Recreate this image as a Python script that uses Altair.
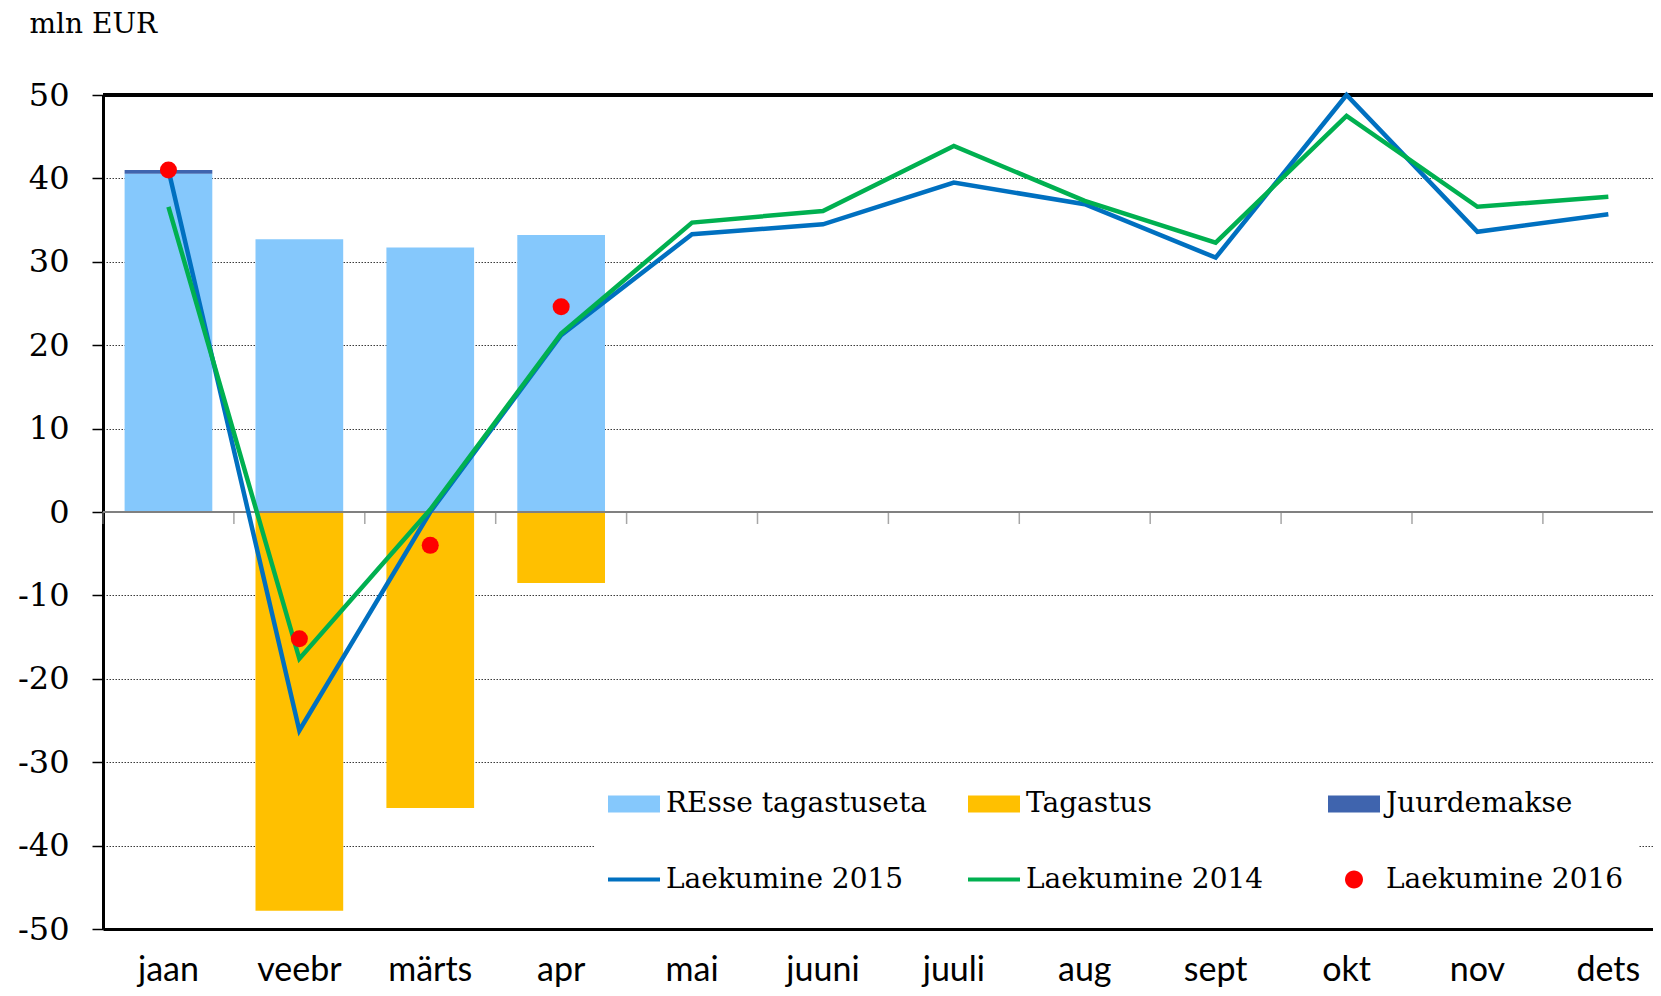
import altair as alt
import pandas as pd

months = ["jaan", "veebr", "märts", "apr", "mai", "juuni", "juuli", "aug", "sept", "okt", "nov", "dets"]
bar_months = ["jaan", "veebr", "märts", "apr"]
re_vals = [40.55, 32.7, 31.7, 33.2]
tagastus_vals = [0.0, -47.8, -35.5, -8.5]
juurdemakse_vals = [0.45, 0.0, 0.0, 0.0]
l2015 = [41.0, -26.2, 0.0, 21.2, 33.3, 34.5, 39.5, 36.9, 30.5, 50.0, 33.6, 35.7]
l2014 = [36.6, -17.6, 0.3, 21.4, 34.7, 36.1, 43.9, 37.3, 32.3, 47.5, 36.6, 37.8]
l2016 = [41.0, -15.2, -4.0, 24.6]
y_ticks = [-50, -40, -30, -20, -10, 0, 10, 20, 30, 40, 50]

series = ["REsse tagastuseta", "Tagastus", "Juurdemakse",
          "Laekumine 2015", "Laekumine 2014", "Laekumine 2016"]
colors = ["#85C8FC", "#FFC000", "#3F64AE", "#0070C0", "#00B050", "#FF0000"]
rect_path = "M-1,-0.327H1V0.327H-1Z"
line_path = "M-1,-0.08H1V0.08H-1Z"
dot_path = "M0.346,0A0.346,0.346,0,1,1,-0.346,0A0.346,0.346,0,1,1,0.346,0Z"
shapes = [rect_path, rect_path, rect_path, line_path, line_path, dot_path]

# ---- tables ----
bar_rows = []
for i, m in enumerate(bar_months):
    bar_rows.append({"month": m, "series": series[0], "value": re_vals[i], "ord": 0})
    bar_rows.append({"month": m, "series": series[2], "value": juurdemakse_vals[i], "ord": 1})
    bar_rows.append({"month": m, "series": series[1], "value": tagastus_vals[i], "ord": 2})
bar_df = pd.DataFrame(bar_rows)
df15 = pd.DataFrame({"month": months, "value": l2015, "series": series[3]})
df14 = pd.DataFrame({"month": months, "value": l2014, "series": series[4]})
df16 = pd.DataFrame({"month": bar_months, "value": l2016, "series": series[5]})
month_df = pd.DataFrame({"month": months})
legend_df = pd.DataFrame({"series": series})

xscale = alt.Scale(type="band", domain=months, paddingInner=0.33,
                   paddingOuter=0.0856, align=0.964)
yscale = alt.Scale(domain=[-50, 50], nice=False, zero=False)
cscale = alt.Scale(domain=series, range=colors)

x_axis = alt.Axis(title=None, orient="bottom", domain=True, domainColor="black",
                  domainWidth=3, ticks=False, tickSize=0, labelFont="Lato",
                  labelFontSize=34, labelColor="black", labelPadding=51,
                  labelBaseline="alphabetic", labelAngle=0, grid=False)

y_axis = alt.Axis(title="mln EUR", titleAngle=0, titleAlign="left",
                  titleBaseline="alphabetic", titleX=-74, titleY=-63,
                  titleFont="DejaVu Serif", titleFontSize=28, titleFontWeight="normal",
                  titleColor="black", values=y_ticks, labelExpr="datum.value + ''",
                  labelFont="DejaVu Serif", labelFontSize=32, labelColor="black",
                  labelPadding=23, tickSize=11, tickColor="black", tickWidth=1.5,
                  domainColor="black", domainWidth=3, grid=True,
                  gridColor="#3a3a3a", gridDash=[1.5, 1.5], gridWidth=1)

legend = alt.Legend(
    title="\u2003", titleOrient="right", titleFontSize=28, titlePadding=0,
    titleColor="white",
    orient="none", legendX=491, legendY=669, columns=3,
    direction="horizontal", gridAlign="all", columnPadding=41, rowPadding=35.5,
    fillColor="white", padding=14, symbolSize=2704, symbolStrokeWidth=0,
    symbolOpacity=1, labelFont="DejaVu Serif", labelFontSize=28,
    labelColor="black", labelOffset=6, labelLimit=500,
)


def X(**kw):
    return alt.X("month:N", scale=xscale, axis=x_axis, **kw)


def Y():
    return alt.Y("value:Q", scale=yscale, axis=y_axis)


def Yd(v):
    return alt.Y(datum=v, type="quantitative", scale=yscale, axis=y_axis)


bars = alt.Chart(bar_df).mark_bar().encode(
    x=X(),
    y=alt.Y("value:Q", scale=yscale, stack="zero", axis=y_axis),
    color=alt.Color("series:N", scale=cscale, legend=legend),
    order=alt.Order("ord:Q"),
)

zero_line = alt.Chart(month_df).mark_rule(color="#808080", strokeWidth=2).encode(
    y=Yd(0)
)

cat_ticks = alt.Chart(month_df).mark_tick(
    orient="vertical", size=12, thickness=1.5, color="#808080", yOffset=6, xOffset=-21.6
).encode(x=X(bandPosition=0), y=Yd(0))

top_border = alt.Chart(month_df).mark_rule(color="black", strokeWidth=3).encode(
    y=Yd(50)
)

line15 = alt.Chart(df15).mark_line(strokeWidth=4.5, color=colors[3]).encode(x=X(), y=Y())
line14 = alt.Chart(df14).mark_line(strokeWidth=4.5, color=colors[4]).encode(x=X(), y=Y())
pts16 = alt.Chart(df16).mark_circle(size=290, opacity=1, color=colors[5]).encode(x=X(), y=Y())

leg = alt.Chart(legend_df).mark_point(filled=True, opacity=0).encode(
    color=alt.Color("series:N", scale=cscale, legend=legend),
    shape=alt.Shape("series:N", scale=alt.Scale(domain=series, range=shapes), legend=legend),
)

chart = alt.layer(
    bars, zero_line, cat_ticks, top_border, line15, line14, pts16, leg
).properties(
    width=1550, height=834,
    padding={"left": 95, "top": 87, "right": 0, "bottom": 59},
    autosize=alt.AutoSizeParams(type="none"),
    background="white",
).configure_view(stroke=None)

chart.save("out.html", embed_options={"renderer": "svg", "actions": False})
